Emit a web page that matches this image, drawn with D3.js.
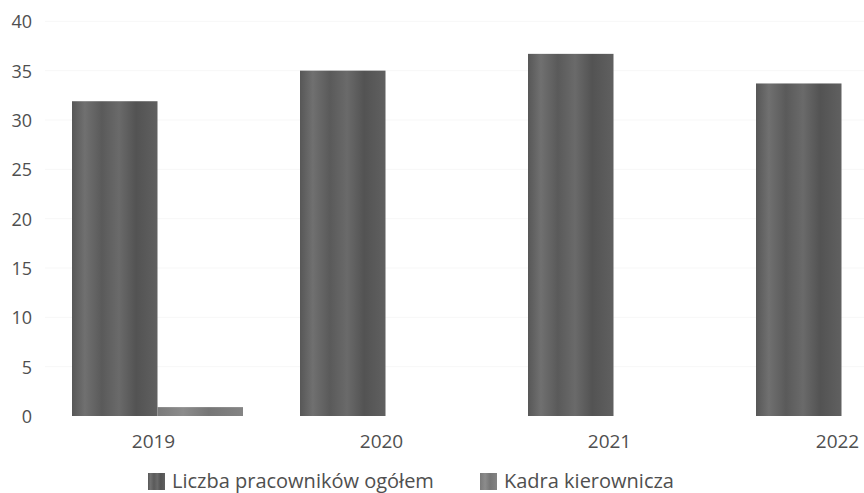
<!DOCTYPE html>
<html>
<head>
<meta charset="utf-8">
<script src="https://cdn.jsdelivr.net/npm/d3@7"></script>
<style>
  html, body { margin: 0; padding: 0; background: #fff; }
  svg { display: block; font-family: "Open Sans", sans-serif; }
</style>
</head>
<body>
<svg id="chart" width="864" height="493"></svg>
<script>
const years = ["2019", "2020", "2021", "2022"];
const seriesNames = ["Liczba pracowników ogółem", "Kadra kierownicza"];
const totalEmployees = [31.9, 35.0, 36.7, 33.7];
const managers = [0.9, 0, 0, 0];
const yTicks = [0, 5, 10, 15, 20, 25, 30, 35, 40];

const svg = d3.select("#chart");
const W = 864, H = 493;

const defs = svg.append("defs");
function cyl(id, stops) {
  const g = defs.append("linearGradient").attr("id", id)
    .attr("x1", "0%").attr("x2", "100%").attr("y1", "0%").attr("y2", "0%");
  stops.forEach(s => g.append("stop").attr("offset", s[0]).attr("stop-color", s[1]));
}
cyl("gTotal", [["0%", "#575757"], ["15%", "#707070"], ["35%", "#5a5a5a"], ["55%", "#6a6a6a"], ["75%", "#535353"], ["100%", "#606060"]]);
cyl("gKadra", [["0%", "#7a7a7a"], ["30%", "#8c8c8c"], ["60%", "#767676"], ["100%", "#848484"]]);

const y = d3.scaleLinear().domain([0, 40]).range([416, 21.3]);
const x0 = d3.scaleBand().domain(years).range([43.5, 955.5])
  .paddingInner(0.25).paddingOuter(0.125);
const x1 = d3.scaleBand().domain(seriesNames).range([0, x0.bandwidth()]).padding(0);

// very faint gridlines
svg.append("g").selectAll("line").data(yTicks.slice(1)).join("line")
  .attr("x1", 45).attr("x2", W)
  .attr("y1", d => y(d)).attr("y2", d => y(d))
  .attr("stroke", "#f7f7f7").attr("stroke-width", 1);

// y axis
const yAxis = d3.axisLeft(y).tickValues(yTicks).tickSize(0).tickPadding(0);
const gy = svg.append("g").attr("transform", "translate(32,0)").call(yAxis);
gy.select(".domain").remove();
gy.selectAll("text").attr("fill", "#4f4f4f").attr("font-size", 18)
  .attr("font-family", "Open Sans, sans-serif").attr("dy", "0.36em");

// bars
const rows = years.map((yr, i) => ({ year: yr, vals: [totalEmployees[i], managers[i]] }));
const grp = svg.append("g").selectAll("g").data(rows).join("g")
  .attr("transform", d => `translate(${x0(d.year)},0)`);
grp.selectAll("rect").data(d => d.vals.map((v, j) => ({ name: seriesNames[j], v })))
  .join("rect")
  .attr("x", d => x1(d.name))
  .attr("width", x1.bandwidth())
  .attr("y", d => y(d.v))
  .attr("height", d => y(0) - y(d.v))
  .attr("fill", d => d.name === seriesNames[0] ? "url(#gTotal)" : "url(#gKadra)");

// x axis labels
const xAxis = d3.axisBottom(x0).tickSize(0).tickPadding(0);
const gx = svg.append("g").attr("transform", "translate(0,430)").call(xAxis);
gx.select(".domain").remove();
gx.selectAll("text").attr("fill", "#4f4f4f").attr("font-size", 19)
  .attr("font-family", "Open Sans, sans-serif").attr("dy", "0.95em")
  .attr("dx", -4);

// legend
const legendX = [148, 480];
const leg = svg.append("g").selectAll("g").data(seriesNames).join("g")
  .attr("transform", (d, i) => `translate(${legendX[i]},473)`);
leg.append("rect").attr("width", 17).attr("height", 17)
  .attr("fill", (d, i) => i === 0 ? "url(#gTotal)" : "url(#gKadra)");
leg.append("text").attr("x", 24).attr("y", 15)
  .attr("font-size", 20).attr("fill", "#4f4f4f")
  .text(d => d);
</script>
</body>
</html>
